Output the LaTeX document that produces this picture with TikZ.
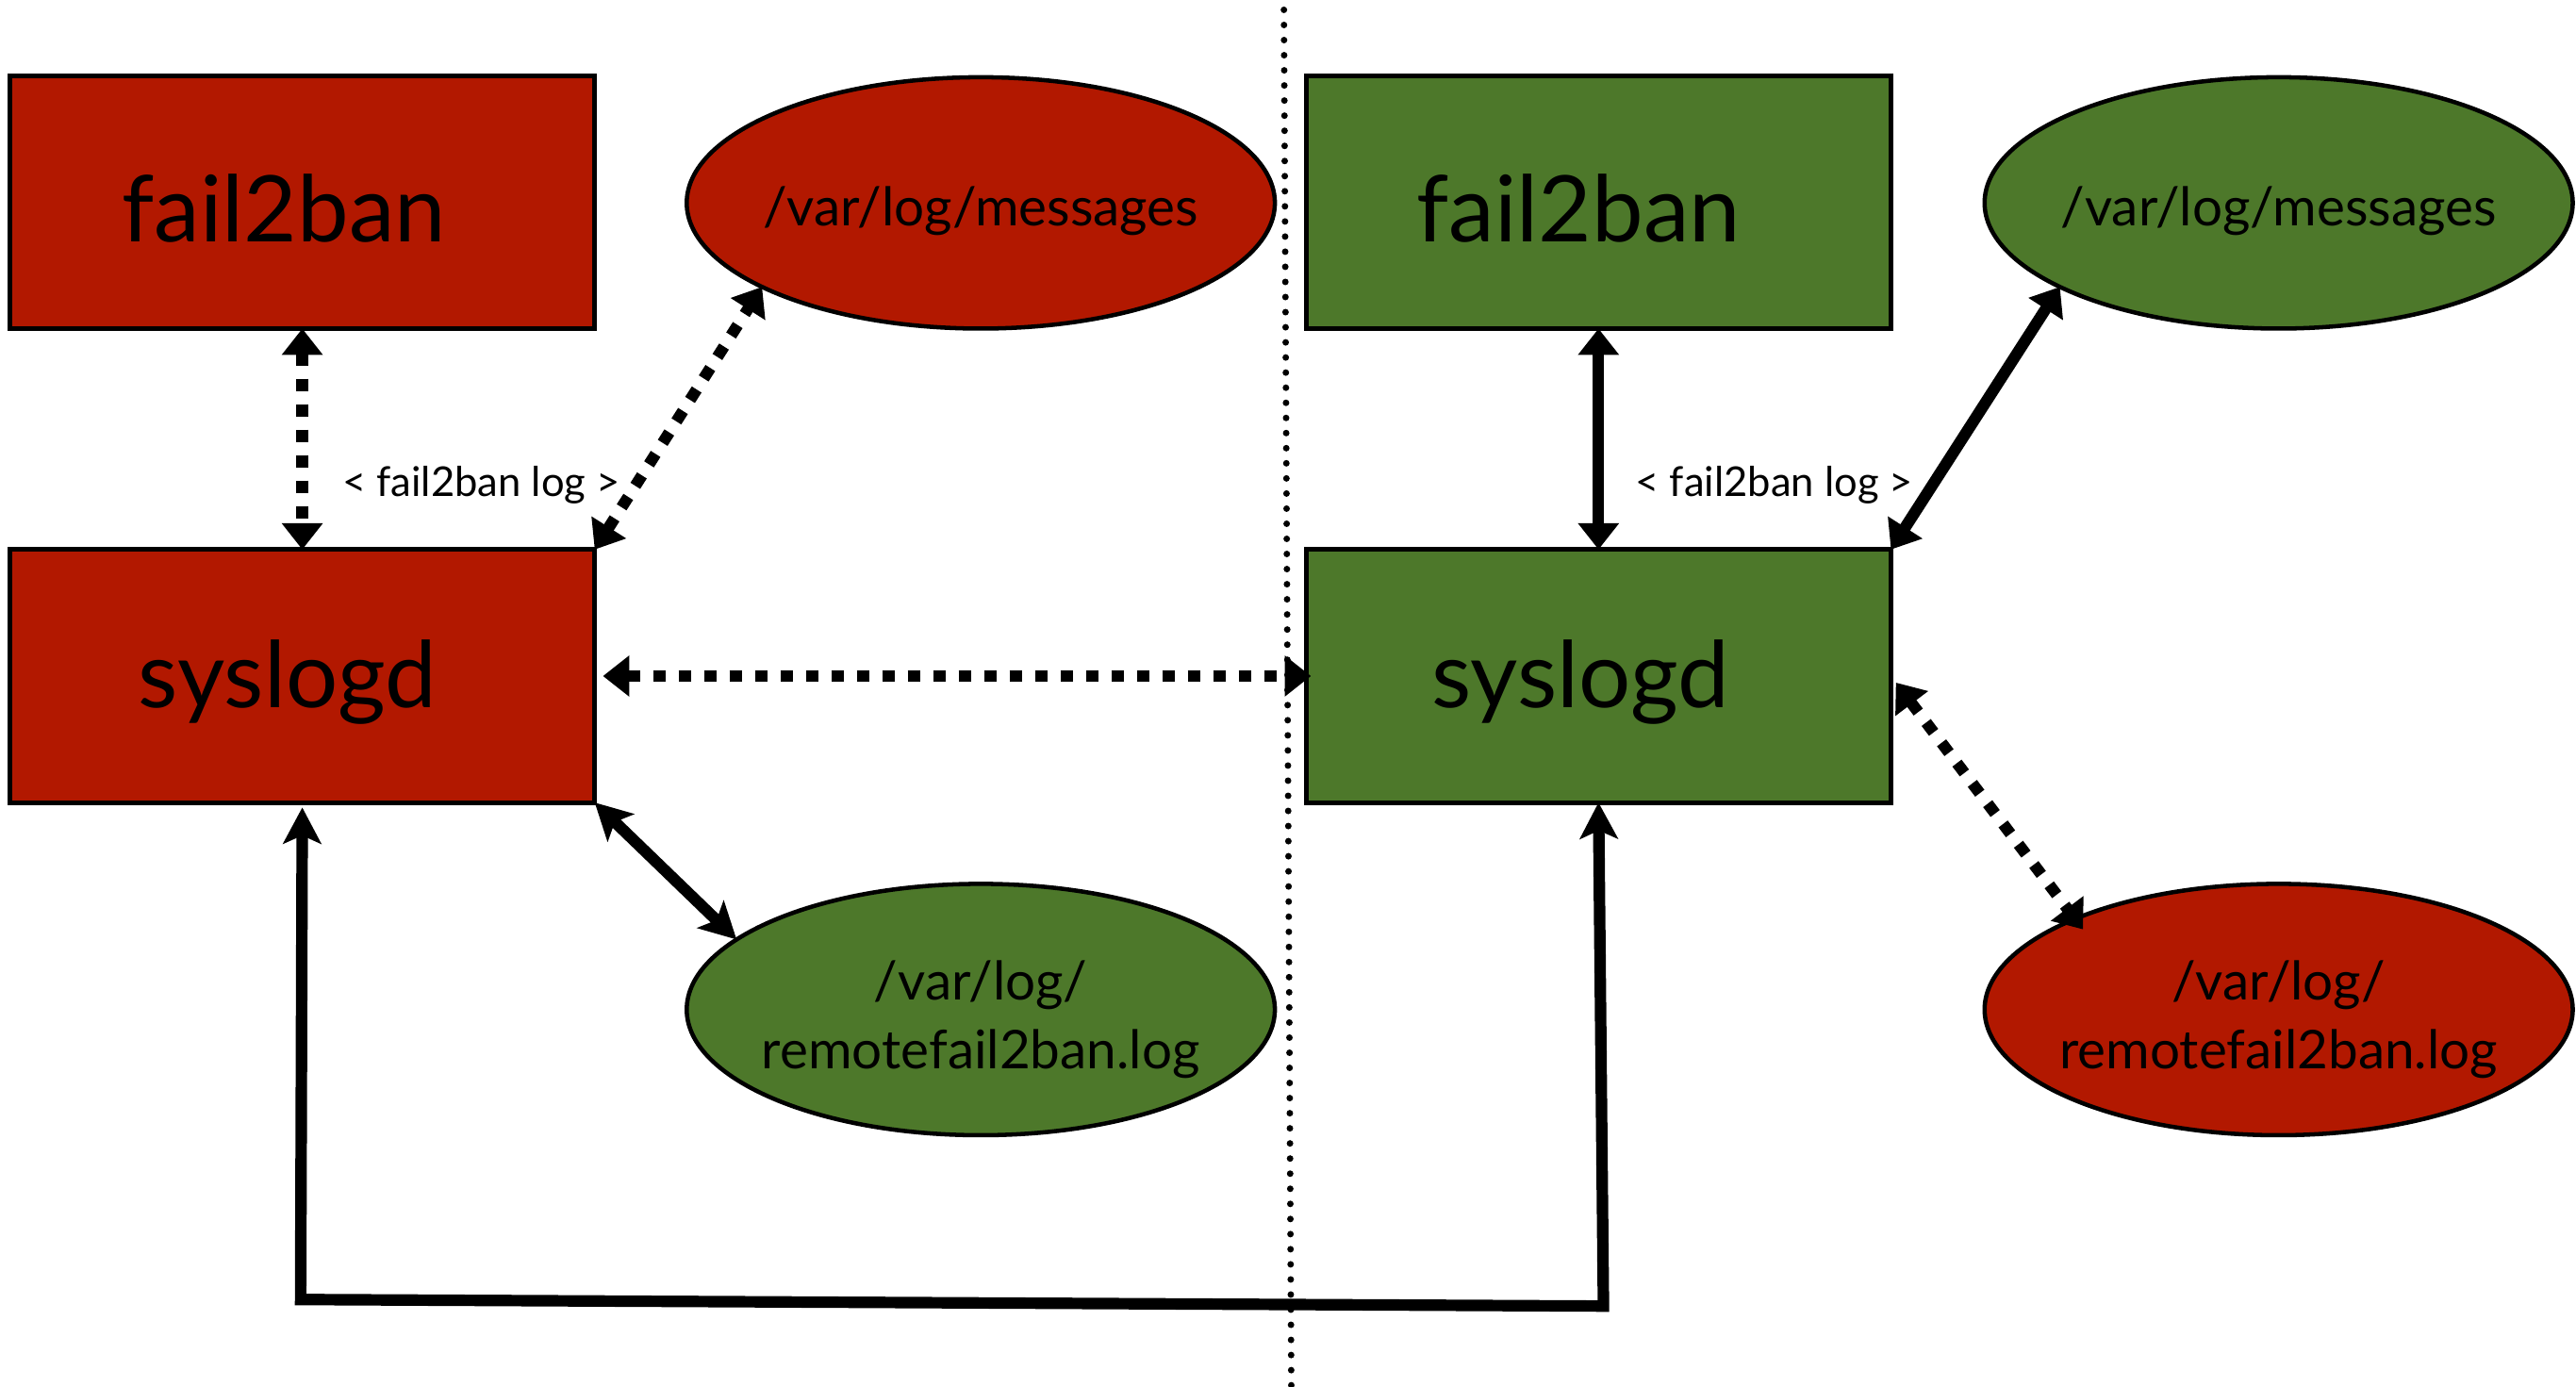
\documentclass[tikz,border=0pt]{standalone}
\usepackage{fontspec}
\setmainfont{Lato}
\usetikzlibrary{arrows.meta,shapes.geometric}
\definecolor{hostred}{RGB}{178,24,0}
\definecolor{hostgreen}{RGB}{77,120,42}
\begin{document}
\begin{tikzpicture}[x=1pt,y=-1pt,
  box/.style={draw=black,line width=3pt,minimum width=356pt,minimum height=154pt,inner sep=0pt,outer sep=0pt},
  logfile/.style={ellipse,draw=black,line width=2.6pt,minimum width=358pt,minimum height=153pt,inner sep=0pt,outer sep=0pt},
  filetext/.style={font=\fontsize{32.5}{42}\selectfont,align=center,inner sep=0pt},
  bigtext/.style={font=\fontsize{56}{60}\selectfont},
  tag/.style={font=\fontsize{25}{28}\selectfont,inner sep=0pt},
  link/.style={line width=7pt,{Triangle[length=16pt,width=24pt]}-{Triangle[length=16pt,width=24pt]}},
  dotlink/.style={link,dash pattern=on 7.5pt off 8pt},
  hardlink/.style={line width=7pt,line join=miter,{Stealth[length=22pt,width=23pt,inset=5pt]}-{Stealth[length=22pt,width=23pt,inset=5pt]}}
]
\useasboundingbox (0,0) rectangle (1568,844);

% host A
\node[box,fill=hostred,label={[bigtext,xshift=-11pt,yshift=-4pt]center:fail2ban}] (lf) at (184,123) {};
\node[box,fill=hostred,label={[bigtext,xshift=-9pt,yshift=-4pt]center:syslogd}] (ls) at (184,411.5) {};
\node[logfile,fill=hostred,label={[filetext,yshift=-5pt]center:/var/log/messages}] (lm) at (597,123.5) {};
\node[logfile,fill=hostgreen,label={[filetext,yshift=-6pt]center:/var/log/\\remotefail2ban.log}] (lr) at (597,614.5) {};

% host B
\node[box,fill=hostgreen,label={[bigtext,xshift=-12pt,yshift=-4pt]center:fail2ban}] (rf) at (973,123) {};
\node[box,fill=hostgreen,label={[bigtext,xshift=-11pt,yshift=-4pt]center:syslogd}] (rs) at (973,411.5) {};
\node[logfile,fill=hostgreen,label={[filetext,yshift=-5pt]center:/var/log/messages}] (rm) at (1387,123.5) {};
\node[logfile,fill=hostred,label={[filetext,yshift=-6pt]center:/var/log/\\remotefail2ban.log}] (rr) at (1387,614.5) {};

\node[tag] (ltag) at (293,295) {< fail2ban log >};
\node[tag] (rtag) at (1080,295) {< fail2ban log >};

% separator between the hosts
\coordinate (septop) at (781.5,6);
\coordinate (sepbot) at (786,844);
\draw[line width=4pt,line cap=round,dash pattern=on 0pt off 9.2pt] (septop) -- (sepbot);

% host A links
\draw[dotlink] (lf.south) -- (ls.north);
\draw[dotlink] (ls.north east) -- (lm.201.5);
\draw[dotlink,shorten <=5pt,shorten >=-3pt] (ls.east) -- (rs.west);
\draw[hardlink] (ls.south east) -- (lr.164.6);

% host B links
\draw[link] (rf.south) -- (rs.north);
\draw[link] (rs.north east) -- (rm.201.8);
\draw[dotlink,shorten <=5pt,shorten >=-8pt] (rs.east) -- (rr.156.1);

% forwarding loop under both hosts
\coordinate (loopa) at (183,791);
\coordinate (loopb) at (976,795);
\draw[hardlink,shorten <=3pt] (ls.south) -- (loopa) -- (loopb) -- (rs.south);
\end{tikzpicture}
\end{document}
